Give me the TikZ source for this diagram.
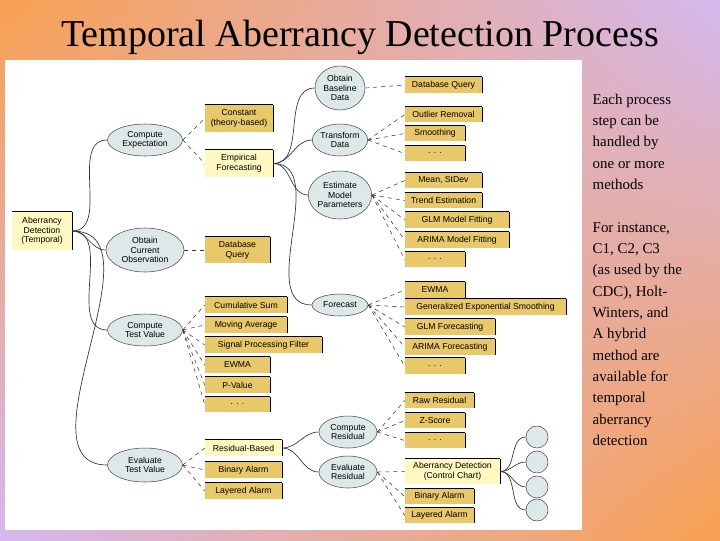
\documentclass[tikz,border=0pt]{standalone}
\usepackage{fontspec}
\setmainfont{Liberation Serif}
\newfontfamily\dsans{Liberation Sans}
\usetikzlibrary{shapes.geometric,shadings}
\definecolor{dy}{HTML}{E8C868}
\definecolor{ly}{HTML}{FFF8C0}
\definecolor{eb}{HTML}{DCE9E8}
\definecolor{bgo}{HTML}{F9A050}
\definecolor{bgl}{HTML}{D4B8F0}
\newcommand\bx[7][]{\node[box,#1,minimum width={(#4-#2)*0.75pt},minimum height={(#5-#3)*0.75pt}] (#6) at ({(#2+#4)/2},{(#3+#5)/2}) {#7};}
\newcommand\el[6]{\node[ell,minimum width={#3*0.75pt},minimum height={#4*0.75pt}] (#5) at (#1,#2) {#6};}
\begin{document}
\begin{tikzpicture}[x=0.75pt,y=-0.75pt,
  box/.style={fill=dy,inner sep=0pt,align=center,font=\dsans\fontsize{6.5}{7.2}\selectfont,
    append after command={(\tikzlastnode.north west) edge[draw=black,line width=0.6pt] (\tikzlastnode.north east)
      (\tikzlastnode.north east) edge[draw=black,line width=0.6pt] (\tikzlastnode.south east)}},
  lbox/.style={fill=ly},
  ell/.style={ellipse,draw=black!70,fill=eb,inner sep=0pt,align=center,font=\dsans\fontsize{6.5}{7.2}\selectfont},
  sol/.style={draw=black!80,line width=0.5pt},
  dsh/.style={draw=black!80,dashed,line width=0.4pt},
  circ/.style={circle,draw=black!70,fill=eb,minimum size={22*0.75pt},inner sep=0pt}]
\shade[upper left=bgo,upper right=bgl,lower left=bgl,lower right=bgo] (0,0) rectangle (720,540);
\useasboundingbox (0,0) rectangle (720,540);
\fill[white] (5,60) rectangle (582,530);
\node[font=\fontsize{28.5}{32}\selectfont] (title) at (360,37) {Temporal Aberrancy Detection Process};
\node[anchor=north west,align=left,font=\fontsize{11.2}{16}\selectfont] (txt) at (588,89)
 {Each process\\step can be\\handled by\\one or more\\methods\\[16pt]For instance,\\C1, C2, C3\\(as used by the\\CDC), Holt-\\Winters, and\\A hybrid\\method are\\available for\\temporal\\aberrancy\\detection};
% root
\node[box,lbox,minimum width={60*0.75pt},minimum height={38*0.75pt},align=center] (root) at (42,231) {Aberrancy\\Detection\\(Temporal)};
% left ellipses
\el{145}{140}{75}{32}{ce}{Compute\\Expectation}
\el{145}{250}{78}{44}{co}{Obtain\\Current\\Observation}
\el{145}{330}{75}{32}{ct}{Compute\\Test Value}
\el{145}{465}{75}{34}{et}{Evaluate\\Test Value}
% left boxes
\bx{205}{105}{273}{132}{cst}{Constant\\(theory-based)}
\bx[lbox]{205}{150}{273}{177}{emp}{Empirical\\Forecasting}
\bx{205}{237}{270}{263}{dbq}{Database\\Query}
\bx{205}{297}{287}{313}{cus}{Cumulative Sum}
\bx{205}{317}{287}{333}{mav}{Moving Average}
\bx{205}{337}{322}{353}{spf}{Signal Processing Filter}
\bx{205}{357}{270}{373}{ew1}{EWMA}
\bx{205}{377}{270}{393}{pv}{P-Value}
\bx{205}{397}{270}{412}{d1}{. . .}
\bx[lbox]{205}{440}{282}{456}{rb}{Residual-Based}
\bx{205}{462}{282}{478}{ba1}{Binary Alarm}
\bx{205}{483}{282}{499}{la1}{Layered Alarm}
% right ellipses
\el{340}{88}{50}{44}{ob}{Obtain\\Baseline\\Data}
\el{340}{140}{52}{32}{td}{Transform\\Data}
\el{340}{195}{56}{48}{em}{Estimate\\Model\\Parameters}
\el{340}{305}{56}{22}{fc}{Forecast}
\el{348}{432}{58}{32}{cr}{Compute\\Residual}
\el{348}{472}{58}{32}{er}{Evaluate\\Residual}
% right boxes
\bx{405}{77}{482}{93}{r1}{Database Query}
\bx{405}{107}{482}{122}{r2}{Outlier Removal}
\bx{405}{126}{465}{141}{r3}{Smoothing}
\bx{405}{146}{465}{161}{r4}{. . .}
\bx{405}{173}{482}{188}{r5}{Mean, StDev}
\bx{405}{193}{482}{208}{r6}{Trend Estimation}
\bx{405}{212}{509}{228}{r7}{GLM Model Fitting}
\bx{405}{232}{509}{248}{r8}{ARIMA Model Fitting}
\bx{405}{252}{465}{267}{r9}{. . .}
\bx{405}{282}{465}{298}{f1}{EWMA}
\bx{405}{299}{566}{315}{f2}{Generalized Exponential Smoothing}
\bx{405}{319}{495}{335}{f3}{GLM Forecasting}
\bx{405}{339}{495}{355}{f4}{ARIMA Forecasting}
\bx{405}{358}{465}{374}{f5}{. . .}
\bx{405}{393}{474}{408}{c1}{Raw Residual}
\bx{405}{413}{465}{428}{c2}{Z-Score}
\bx{405}{433}{465}{448}{c3}{. . .}
\bx[lbox]{405}{459}{500}{484}{adc}{Aberrancy Detection\\(Control Chart)}
\bx{405}{489}{474}{504}{ba2}{Binary Alarm}
\bx{405}{508}{474}{523}{la2}{Layered Alarm}
% circles
\node[circ] (k1) at (537,437) {};
\node[circ] (k2) at (537,462) {};
\node[circ] (k3) at (537,487) {};
\node[circ] (k4) at (537,510) {};
% solid connectors
\foreach \t in {ce,co,ct,et} \draw[sol] (root.east) to[out=0,in=180] (\t.west);
\foreach \t in {ob,td,em,fc} \draw[sol] (emp.east) to[out=0,in=180] (\t.west);
\foreach \t in {cr,er} \draw[sol] (rb.east) to[out=0,in=180] (\t.west);
\foreach \t in {k1,k2,k3,k4} \draw[sol] (adc.east) to[out=0,in=180] (\t.west);
% dashed connectors
\foreach \t in {cst,emp} \draw[dsh] (ce.east) -- (\t.west);
\draw[dsh] (co.east) -- (dbq.west);
\foreach \t in {cus,mav,spf,ew1,pv,d1} \draw[dsh] (ct.east) -- (\t.west);
\foreach \t in {rb,ba1,la1} \draw[dsh] (et.east) -- (\t.west);
\draw[dsh] (ob.east) -- (r1.west);
\foreach \t in {r2,r3,r4} \draw[dsh] (td.east) -- (\t.west);
\foreach \t in {r5,r6,r7,r8,r9} \draw[dsh] (em.east) -- (\t.west);
\foreach \t in {f1,f2,f3,f4,f5} \draw[dsh] (fc.east) -- (\t.west);
\foreach \t in {c1,c2,c3} \draw[dsh] (cr.east) -- (\t.west);
\foreach \t in {adc,ba2,la2} \draw[dsh] (er.east) -- (\t.west);
\end{tikzpicture}
\end{document}
